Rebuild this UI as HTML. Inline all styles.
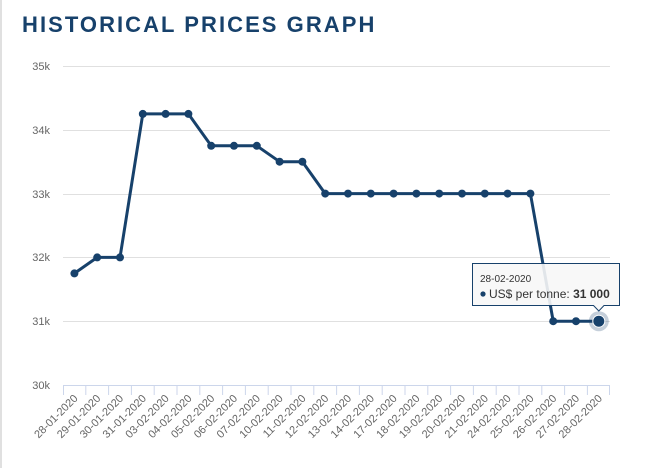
<!DOCTYPE html>
<html><head><meta charset="utf-8"><style>
body{margin:0;background:#fff;width:649px;height:468px;overflow:hidden;font-family:"Liberation Sans",sans-serif}
</style></head><body>
<svg width="649" height="468" xmlns="http://www.w3.org/2000/svg" style="position:absolute;left:0;top:0">
<rect x="0" y="0" width="2" height="468" fill="#e0e0e0"/>
<text x="22" y="32" font-size="22" font-weight="bold" fill="#17416b" letter-spacing="2.05" font-family="Liberation Sans, sans-serif">HISTORICAL PRICES GRAPH</text>
<g stroke="#e0e0e0" stroke-width="1">
<line x1="63" x2="610" y1="66.5" y2="66.5"/><line x1="63" x2="610" y1="130.5" y2="130.5"/><line x1="63" x2="610" y1="194.5" y2="194.5"/><line x1="63" x2="610" y1="257.5" y2="257.5"/><line x1="63" x2="610" y1="321.5" y2="321.5"/>
</g>
<g font-size="11" fill="#666" text-anchor="end" font-family="Liberation Sans, sans-serif">
<text x="50" y="70">35k</text><text x="50" y="134">34k</text><text x="50" y="198">33k</text><text x="50" y="261">32k</text><text x="50" y="325">31k</text><text x="50" y="389">30k</text>
</g>
<line x1="63" x2="610" y1="385.5" y2="385.5" stroke="#ccd6eb"/>
<g stroke="#ccd6eb">
<line x1="63.5" x2="63.5" y1="385" y2="395"/><line x1="85.8" x2="85.8" y1="385" y2="395"/><line x1="108.6" x2="108.6" y1="385" y2="395"/><line x1="131.4" x2="131.4" y1="385" y2="395"/><line x1="154.2" x2="154.2" y1="385" y2="395"/><line x1="177" x2="177" y1="385" y2="395"/><line x1="199.8" x2="199.8" y1="385" y2="395"/><line x1="222.6" x2="222.6" y1="385" y2="395"/><line x1="245.4" x2="245.4" y1="385" y2="395"/><line x1="268.2" x2="268.2" y1="385" y2="395"/><line x1="291" x2="291" y1="385" y2="395"/><line x1="313.8" x2="313.8" y1="385" y2="395"/><line x1="336.6" x2="336.6" y1="385" y2="395"/><line x1="359.4" x2="359.4" y1="385" y2="395"/><line x1="382.2" x2="382.2" y1="385" y2="395"/><line x1="405" x2="405" y1="385" y2="395"/><line x1="427.8" x2="427.8" y1="385" y2="395"/><line x1="450.6" x2="450.6" y1="385" y2="395"/><line x1="473.4" x2="473.4" y1="385" y2="395"/><line x1="496.2" x2="496.2" y1="385" y2="395"/><line x1="519" x2="519" y1="385" y2="395"/><line x1="541.8" x2="541.8" y1="385" y2="395"/><line x1="564.6" x2="564.6" y1="385" y2="395"/><line x1="587.4" x2="587.4" y1="385" y2="395"/><line x1="609.5" x2="609.5" y1="385" y2="395"/>
</g>
<g font-size="11" fill="#666" text-anchor="end" font-family="Liberation Sans, sans-serif">
<text transform="translate(78.4,399) rotate(-45)">28-01-2020</text>
<text transform="translate(101.2,399) rotate(-45)">29-01-2020</text>
<text transform="translate(124,399) rotate(-45)">30-01-2020</text>
<text transform="translate(146.8,399) rotate(-45)">31-01-2020</text>
<text transform="translate(169.6,399) rotate(-45)">03-02-2020</text>
<text transform="translate(192.4,399) rotate(-45)">04-02-2020</text>
<text transform="translate(215.2,399) rotate(-45)">05-02-2020</text>
<text transform="translate(238,399) rotate(-45)">06-02-2020</text>
<text transform="translate(260.8,399) rotate(-45)">07-02-2020</text>
<text transform="translate(283.6,399) rotate(-45)">10-02-2020</text>
<text transform="translate(306.4,399) rotate(-45)">11-02-2020</text>
<text transform="translate(329.2,399) rotate(-45)">12-02-2020</text>
<text transform="translate(352,399) rotate(-45)">13-02-2020</text>
<text transform="translate(374.8,399) rotate(-45)">14-02-2020</text>
<text transform="translate(397.6,399) rotate(-45)">17-02-2020</text>
<text transform="translate(420.4,399) rotate(-45)">18-02-2020</text>
<text transform="translate(443.2,399) rotate(-45)">19-02-2020</text>
<text transform="translate(466,399) rotate(-45)">20-02-2020</text>
<text transform="translate(488.8,399) rotate(-45)">21-02-2020</text>
<text transform="translate(511.6,399) rotate(-45)">24-02-2020</text>
<text transform="translate(534.4,399) rotate(-45)">25-02-2020</text>
<text transform="translate(557.2,399) rotate(-45)">26-02-2020</text>
<text transform="translate(580,399) rotate(-45)">27-02-2020</text>
<text transform="translate(602.8,399) rotate(-45)">28-02-2020</text>
</g>
<polyline fill="none" stroke="#17416b" stroke-width="3" stroke-linejoin="round" points="74.4,273.4 97.2,257.4 120,257.4 142.8,113.9 165.6,113.9 188.4,113.9 211.2,145.8 234,145.8 256.8,145.8 279.6,161.7 302.4,161.7 325.2,193.6 348,193.6 370.8,193.6 393.6,193.6 416.4,193.6 439.2,193.6 462,193.6 484.8,193.6 507.6,193.6 530.4,193.6 553.2,321.2 576,321.2 598.8,321.2"/>
<g fill="#17416b">
<circle cx="74.4" cy="273.4" r="4"/><circle cx="97.2" cy="257.4" r="4"/><circle cx="120" cy="257.4" r="4"/><circle cx="142.8" cy="113.9" r="4"/><circle cx="165.6" cy="113.9" r="4"/><circle cx="188.4" cy="113.9" r="4"/><circle cx="211.2" cy="145.8" r="4"/><circle cx="234" cy="145.8" r="4"/><circle cx="256.8" cy="145.8" r="4"/><circle cx="279.6" cy="161.7" r="4"/><circle cx="302.4" cy="161.7" r="4"/><circle cx="325.2" cy="193.6" r="4"/><circle cx="348" cy="193.6" r="4"/><circle cx="370.8" cy="193.6" r="4"/><circle cx="393.6" cy="193.6" r="4"/><circle cx="416.4" cy="193.6" r="4"/><circle cx="439.2" cy="193.6" r="4"/><circle cx="462" cy="193.6" r="4"/><circle cx="484.8" cy="193.6" r="4"/><circle cx="507.6" cy="193.6" r="4"/><circle cx="530.4" cy="193.6" r="4"/><circle cx="553.2" cy="321.2" r="4"/><circle cx="576" cy="321.2" r="4"/>
</g>
<circle cx="598.8" cy="321.2" r="10" fill="#17416b" fill-opacity="0.25"/>
<circle cx="598.8" cy="321.2" r="6" fill="#17416b" stroke="#fff" stroke-width="1"/>
<path d="M472.5,263.5 H619.5 V305.5 H604 L598.8,311 L593.5,305.5 H472.5 Z" fill="#f7f7f7" fill-opacity="0.9" stroke="#17416b" stroke-width="1"/>
<text x="480" y="282" font-size="10" fill="#333">28-02-2020</text>
<circle cx="483" cy="294" r="2.6" fill="#17416b"/>
<text x="489" y="298" font-size="12" fill="#333">US$ per tonne: <tspan font-weight="bold">31 000</tspan></text>
</svg>
</body></html>
